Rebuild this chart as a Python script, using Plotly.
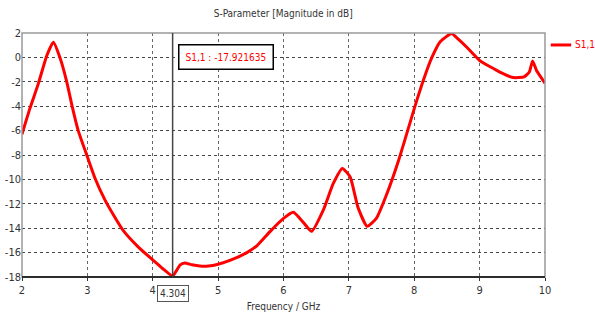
import plotly.graph_objects as go

freq = [2.0, 2.12, 2.25, 2.38, 2.48, 2.58, 2.68, 2.77, 2.86, 2.99, 3.12, 3.27, 3.42, 3.55,
        3.78, 4.0, 4.15, 4.304, 4.36, 4.42, 4.49, 4.6, 4.72, 4.85, 5.0, 5.2, 5.44, 5.6,
        5.79, 6.0, 6.15, 6.3, 6.43, 6.61, 6.76, 6.9, 7.02, 7.14, 7.28, 7.42, 7.58, 7.76,
        8.04, 8.15, 8.27, 8.4, 8.57, 8.64, 8.8, 9.0, 9.31, 9.51, 9.68, 9.76, 9.81, 9.87, 10.0]
s11 = [-6.3, -4.2, -2.15, 0.16, 1.25, 0.0, -1.9, -4.07, -6.0, -8.0, -9.95, -11.7, -13.1, -14.2,
       -15.55, -16.6, -17.3, -17.92, -17.5, -17.0, -16.85, -17.0, -17.1, -17.1, -16.95, -16.6, -16.0, -15.4,
       -14.3, -13.2, -12.7, -13.5, -14.26, -12.5, -10.35, -9.1, -9.8, -12.3, -13.85, -13.2, -11.2, -8.45,
       -3.5, -1.7, 0.0, 1.3, 1.95, 1.66, 0.85, -0.25, -1.2, -1.65, -1.6, -1.2, -0.3, -1.07, -2.1]

x_ticks = [2, 3, 4, 5, 6, 7, 8, 9, 10]
y_ticks = [-18, -16, -14, -12, -10, -8, -6, -4, -2, 0, 2]
marker_x = 4.304
marker_val = "-17.921635"
series_name = "S1,1"

FONT = "DejaVu Sans Condensed, Liberation Sans Narrow, sans-serif"

fig = go.Figure()
fig.add_trace(go.Scatter(x=freq, y=s11, mode="lines", name=series_name,
                         line=dict(color="#ff0000", width=3, shape="spline", smoothing=0.5)))

fig.update_layout(
    width=595, height=325,
    margin=dict(l=22, r=50, t=33, b=48),
    paper_bgcolor="white", plot_bgcolor="white",
    font=dict(family=FONT, size=10, color="#333333"),
    title=dict(text="S-Parameter [Magnitude in dB]", x=0.476, xanchor="center", y=0.96, yanchor="middle",
               font=dict(family=FONT, size=10, color="#333333")),
    showlegend=False,
    xaxis=dict(range=[2, 10], tickvals=x_ticks, ticktext=[str(v) for v in x_ticks], automargin=False,
               showgrid=True, gridcolor="#666666", griddash="dot", gridwidth=1,
               zeroline=False, showline=False, ticks="outside", ticklen=3, tickcolor="#333",
               tickfont=dict(size=11),
               title=dict(text="Frequency / GHz", font=dict(family=FONT, size=10, color="#333333"), standoff=6)),
    yaxis=dict(range=[-18, 2], tickvals=y_ticks, ticktext=[str(v) for v in y_ticks], automargin=False,
               showgrid=True, gridcolor="#444444", griddash="dot", gridwidth=1,
               tickfont=dict(size=11),
               zeroline=False, showline=False, ticks="", ticklen=0),
)

# frame
fig.add_shape(type="rect", xref="paper", yref="paper", x0=0, x1=1, y0=0, y1=1,
              line=dict(color="#999999", width=1.5))
fig.add_shape(type="line", xref="paper", yref="paper", x0=0, x1=1, y0=0, y1=0,
              line=dict(color="#000000", width=1.5))
# marker line
fig.add_shape(type="line", xref="x", yref="paper", x0=marker_x, x1=marker_x, y0=0, y1=1,
              line=dict(color="#444444", width=1.5))

# legend (drawn manually so it does not shift the plot area)
fig.add_shape(type="line", xref="paper", yref="paper", x0=1.011, x1=1.050, y0=0.951, y1=0.951,
              line=dict(color="#ff0000", width=3))
fig.add_annotation(xref="paper", yref="paper", x=1.054, y=0.951, xanchor="left", yanchor="middle",
                   text=series_name, showarrow=False,
                   font=dict(family=FONT, size=10, color="#ff0000"))

fig.add_annotation(xref="x", yref="y", x=marker_x + 0.08, y=0.0, xanchor="left", yanchor="middle",
                   text=f"S1,1 : {marker_val}", showarrow=False,
                   font=dict(family=FONT, size=10, color="#ff0000"),
                   bgcolor="white", bordercolor="#000000", borderwidth=1.5, borderpad=6)
fig.add_annotation(xref="x", yref="paper", x=marker_x, y=-0.033, xanchor="center", yanchor="top",
                   text=str(marker_x), showarrow=False,
                   font=dict(family=FONT, size=10, color="#333333"),
                   bgcolor="white", bordercolor="#555555", borderwidth=1, borderpad=2)

fig.write_html("out.html", config={"displayModeBar": False},
               post_script="document.body.style.margin='0px';")
